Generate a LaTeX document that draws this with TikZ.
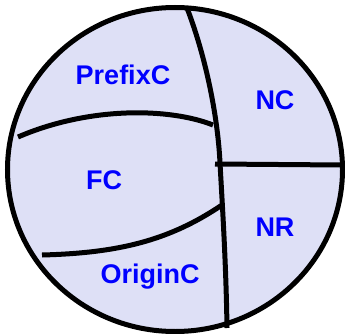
\documentclass[tikz,border=0pt]{standalone}
\usepackage{fontspec}
\setmainfont{Liberation Sans}
\begin{document}
\begin{tikzpicture}[x=1pt,y=-1pt,
  boundary/.style={line width=5pt,draw=black},
  region/.style={text=blue,font=\fontsize{27}{27}\selectfont\bfseries,inner sep=0pt}]
\useasboundingbox (0,0) rectangle (345,334);
\draw[boundary,fill={rgb,255:red,222;green,224;blue,246}] (175,169.5) ellipse [x radius=167.5,y radius=162];
\coordinate (vt) at (187,8);
\coordinate (vm) at (220,163);
\coordinate (vb) at (227,328);
\coordinate (hl) at (215,164);
\coordinate (hr) at (342,165);
\coordinate (p1) at (18,137);
\coordinate (p2) at (213,125);
\coordinate (o1) at (42,255);
\coordinate (o2) at (222,205);
\draw[boundary] (vt) .. controls (207,60) and (218,120) .. (vm) .. controls (222,200) and (226,260) .. (vb);
\draw[boundary] (hl) -- (hr);
\draw[boundary] (p1) .. controls (90,106) and (170,108) .. (p2);
\draw[boundary] (o1) .. controls (120,253) and (170,240) .. (o2);
\node[region] (prefix) at (123,75) {PrefixC};
\node[region] (nc) at (275,100) {NC};
\node[region] (fc) at (104,180) {FC};
\node[region] (nr) at (275,227) {NR};
\node[region] (origin) at (150,277) {OriginC};
\end{tikzpicture}
\end{document}
